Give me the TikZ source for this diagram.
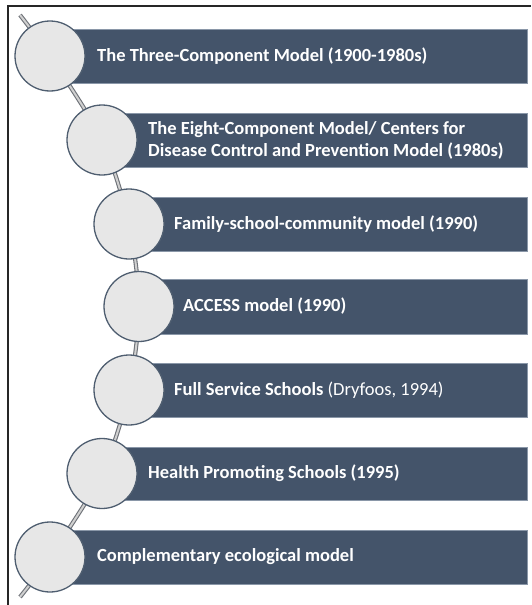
\documentclass[tikz,border=0pt]{standalone}
\usepackage{fontspec}
\setmainfont{Carlito}
\definecolor{barcol}{HTML}{44546A}
\definecolor{baredge}{HTML}{8A97A8}
\definecolor{circfill}{HTML}{E7E7E7}
\definecolor{circedge}{HTML}{4F5E70}
\definecolor{rodout}{HTML}{6E7278}
\definecolor{rodin}{HTML}{D0D0D0}
\begin{document}
\begin{tikzpicture}[x=1pt,y=-1pt,
  bar/.style={fill=barcol,draw=baredge,line width=0.6pt},
  ball/.style={circle,fill=circfill,draw=circedge,line width=1.3pt,minimum size=70pt,inner sep=0pt},
  lab/.style={anchor=west,text=white,font=\fontsize{18.5}{22}\selectfont\bfseries,inner sep=0pt,align=left},
  rod/.style={draw=rodout,double=rodin,double distance=2pt,line width=1.1pt}]
\useasboundingbox (0,0) rectangle (531,605);
\draw[line width=1.2pt,black!85] (8,605) -- (8,6) -- (531,6);
% positions
\coordinate (top) at (20,15);
\coordinate (bot) at (20,597);
\coordinate (p1) at (50,56);
\coordinate (p2) at (102,140);
\coordinate (p3) at (129,224);
\coordinate (p4) at (139,306.5);
\coordinate (p5) at (129,390);
\coordinate (p6) at (102,473.5);
\coordinate (p7) at (50,557);
% connector rod
\draw[rod] plot[smooth,tension=0.5] coordinates {(top) (p1) (p2) (p3) (p4) (p5) (p6) (p7) (bot)};
% bars
\draw[bar] (50,29) rectangle (527,83);
\draw[bar] (102,113) rectangle (527,167);
\draw[bar] (129,197) rectangle (527,251);
\draw[bar] (139,279) rectangle (527,334);
\draw[bar] (129,363) rectangle (527,417);
\draw[bar] (102,447) rectangle (527,500);
\draw[bar] (50,530) rectangle (527,584);
% circles
\node[ball] (c1) at (p1) {};
\node[ball] (c2) at (p2) {};
\node[ball] (c3) at (p3) {};
\node[ball] (c4) at (p4) {};
\node[ball] (c5) at (p5) {};
\node[ball] (c6) at (p6) {};
\node[ball] (c7) at (p7) {};
% labels
\node[lab] (t1) at (97,56) {The Three-Component Model (1900-1980s)};
\node[lab] (t2) at (148,140) {The Eight-Component Model/ Centers for\\Disease Control and Prevention Model (1980s)};
\node[lab] (t3) at (174,224) {Family-school-community model (1990)};
\node[lab] (t4) at (183,306.5) {ACCESS model (1990)};
\node[lab] (t5) at (174,390) {Full Service Schools \mdseries(Dryfoos, 1994)};
\node[lab] (t6) at (148,473.5) {Health Promoting Schools (1995)};
\node[lab] (t7) at (97,557) {Complementary ecological model};
\end{tikzpicture}
\end{document}
